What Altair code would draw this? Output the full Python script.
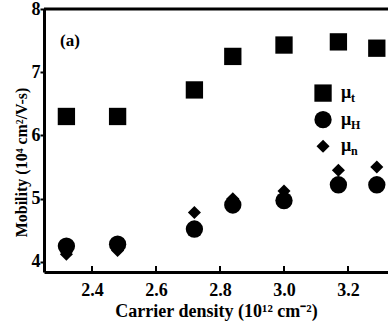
import altair as alt
import pandas as pd

density = [2.32, 2.48, 2.72, 2.84, 3.00, 3.17, 3.29]
mu_t = [6.30, 6.30, 6.72, 7.25, 7.43, 7.48, 7.38]
mu_H = [4.25, 4.28, 4.52, 4.90, 4.97, 5.22, 5.22]
mu_n = [4.12, 4.18, 4.78, 5.00, 5.12, 5.45, 5.50]

x_ticks = [2.4, 2.6, 2.8, 3.0, 3.2]
y_ticks = [4, 5, 6, 7, 8]

leg_names = ["t", "H", "n"]
leg_shapes = ["square", "circle", "diamond"]
leg_sizes = [300, 300, 170]
leg_x = [3.122, 3.122, 3.122]
leg_y = [6.67, 6.25, 5.83]

FONT = "Liberation Serif"
W, H = 344, 263
xs = alt.Scale(domain=[2.25, 3.325], nice=False, zero=False)
ys = alt.Scale(domain=[3.84, 8.0], nice=False, zero=False)

df = pd.DataFrame({"x": density, "t": mu_t, "H": mu_H, "n": mu_n})
leg = pd.DataFrame({"name": leg_names, "shape": leg_shapes, "size": leg_sizes,
                    "lx": leg_x, "ly": leg_y})

xax = alt.Axis(values=x_ticks, format=".1f", title="Carrier density (10¹² cm⁻²)",
               labelFont=FONT, labelFontWeight="bold", labelFontSize=18, labelColor="black",
               titleFont=FONT, titleFontWeight="bold", titleFontSize=18, titleColor="black",
               domainColor="black", domainWidth=3, ticks=False,
               labelPadding=9, titlePadding=3, grid=False)
yax = alt.Axis(values=y_ticks, format="d", title="Mobility (10⁴ cm²/V-s)",
               labelFont=FONT, labelFontWeight="bold", labelFontSize=18, labelColor="black",
               titleFont=FONT, titleFontWeight="bold", titleFontSize=16, titleColor="black",
               domainColor="black", domainWidth=3, tickColor="black", tickWidth=2,
               tickSize=4, labelPadding=0, titlePadding=2, titleY=153, grid=False)

base = alt.Chart(df)
sq = base.mark_point(shape="square", filled=True, size=300, color="black", opacity=1).encode(
    x=alt.X("x:Q", scale=xs, axis=xax), y=alt.Y("t:Q", scale=ys, axis=yax))
ci = base.mark_point(shape="circle", filled=True, size=300, color="black", opacity=1).encode(
    x=alt.X("x:Q", scale=xs), y=alt.Y("H:Q", scale=ys))
di = base.mark_point(shape="diamond", filled=True, size=170, color="black", opacity=1).encode(
    x=alt.X("x:Q", scale=xs), y=alt.Y("n:Q", scale=ys))

top = alt.Chart(pd.DataFrame({"y": [8.0]})).mark_rule(color="black", strokeWidth=3).encode(
    y=alt.Y("y:Q", scale=ys), x=alt.value(0), x2=alt.value(W))

xt = alt.Chart(pd.DataFrame({"x": x_ticks})).mark_rule(color="black", strokeWidth=2).encode(
    x=alt.X("x:Q", scale=xs), y=alt.value(H), y2=alt.value(H - 6))

lsym = alt.Chart(leg).mark_point(filled=True, color="black", opacity=1).encode(
    x=alt.X("lx:Q", scale=xs), y=alt.Y("ly:Q", scale=ys),
    shape=alt.Shape("shape:N", scale=None, legend=None),
    size=alt.Size("size:Q", scale=None, legend=None))
lmu = alt.Chart(leg).mark_text(text="μ", font=FONT, fontWeight="bold", fontSize=18,
                               color="black", align="left", baseline="middle", dx=18).encode(
    x=alt.X("lx:Q", scale=xs), y=alt.Y("ly:Q", scale=ys))
lsub = alt.Chart(leg).mark_text(font=FONT, fontWeight="bold", fontSize=12,
                                color="black", align="left", baseline="middle", dx=28, dy=5).encode(
    x=alt.X("lx:Q", scale=xs), y=alt.Y("ly:Q", scale=ys), text="name:N")

lab = alt.Chart(pd.DataFrame({"x": [2.3], "y": [7.5], "t": ["(a)"]})).mark_text(
    font=FONT, fontWeight="bold", fontSize=17, color="black", align="left", baseline="middle").encode(
    x=alt.X("x:Q", scale=xs), y=alt.Y("y:Q", scale=ys), text="t:N")

chart = alt.layer(top, xt, ci, di, sq, lsym, lmu, lsub, lab).properties(
    width=W, height=H,
    padding={"left": 44, "top": 9, "right": 0, "bottom": 59},
    autosize=alt.AutoSizeParams(type="none"),
    background="white",
).configure_view(stroke=None)

chart.save("out.html", embed_options={"renderer": "svg", "actions": False})
